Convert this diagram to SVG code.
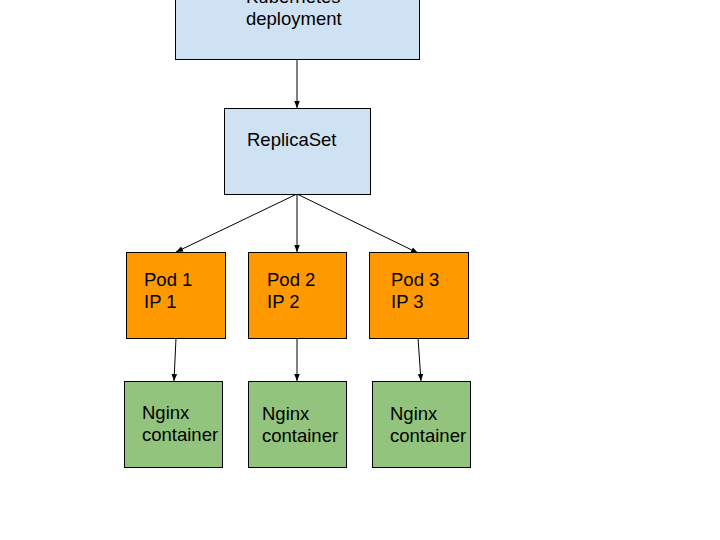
<svg xmlns="http://www.w3.org/2000/svg" width="720" height="540" viewBox="0 0 720 540">
<defs>
<marker id="ah" viewBox="0 0 10 10" refX="10" refY="5" markerWidth="7" markerHeight="7" markerUnits="userSpaceOnUse" orient="auto">
<path d="M0,1 L10,5 L0,9 Z" fill="#000"/>
</marker>
<style>
.box{stroke:#000;stroke-width:1}
.blue{fill:#cfe2f3}
.orange{fill:#ff9900}
.green{fill:#93c47d}
text{font-family:"Liberation Sans",Arial,sans-serif;font-size:18.5px;fill:#000}
.c{stroke:#000;stroke-width:1;fill:none;marker-end:url(#ah)}
</style>
</defs>
<rect width="720" height="540" fill="#fff"/>
<g id="connectors">
<line class="c" x1="297" y1="60" x2="297" y2="108"/>
<line class="c" x1="297" y1="194" x2="176" y2="252"/>
<line class="c" x1="297" y1="194" x2="297" y2="252"/>
<line class="c" x1="297" y1="194" x2="418" y2="253"/>
<line class="c" x1="176" y1="338" x2="174" y2="381"/>
<line class="c" x1="297" y1="338" x2="297" y2="381"/>
<line class="c" x1="418" y1="338" x2="421" y2="381"/>
</g>
<g id="deployment">
<rect class="box blue" x="175.5" y="-40" width="244" height="99.5"/>
<text x="246" y="3">Kubernetes</text>
<text x="246" y="25">deployment</text>
</g>
<g id="replicaset">
<rect class="box blue" x="224.5" y="108.5" width="146" height="86"/>
<text x="247" y="146">ReplicaSet</text>
</g>
<g id="pod1">
<rect class="box orange" x="126.5" y="252.5" width="99" height="86"/>
<text x="144" y="286">Pod 1</text>
<text x="144" y="308">IP 1</text>
</g>
<g id="pod2">
<rect class="box orange" x="248.5" y="252.5" width="98" height="86"/>
<text x="267" y="286">Pod 2</text>
<text x="267" y="308">IP 2</text>
</g>
<g id="pod3">
<rect class="box orange" x="369.5" y="252.5" width="99" height="86"/>
<text x="391" y="286">Pod 3</text>
<text x="391" y="308">IP 3</text>
</g>
<g id="nginx1">
<rect class="box green" x="124.5" y="381.5" width="98" height="86"/>
<text x="142" y="419">Nginx</text>
<text x="142" y="441">container</text>
</g>
<g id="nginx2">
<rect class="box green" x="248.5" y="381.5" width="98" height="86"/>
<text x="262" y="420">Nginx</text>
<text x="262" y="442">container</text>
</g>
<g id="nginx3">
<rect class="box green" x="372.5" y="381.5" width="98" height="86"/>
<text x="390" y="420">Nginx</text>
<text x="390" y="442">container</text>
</g>
</svg>
